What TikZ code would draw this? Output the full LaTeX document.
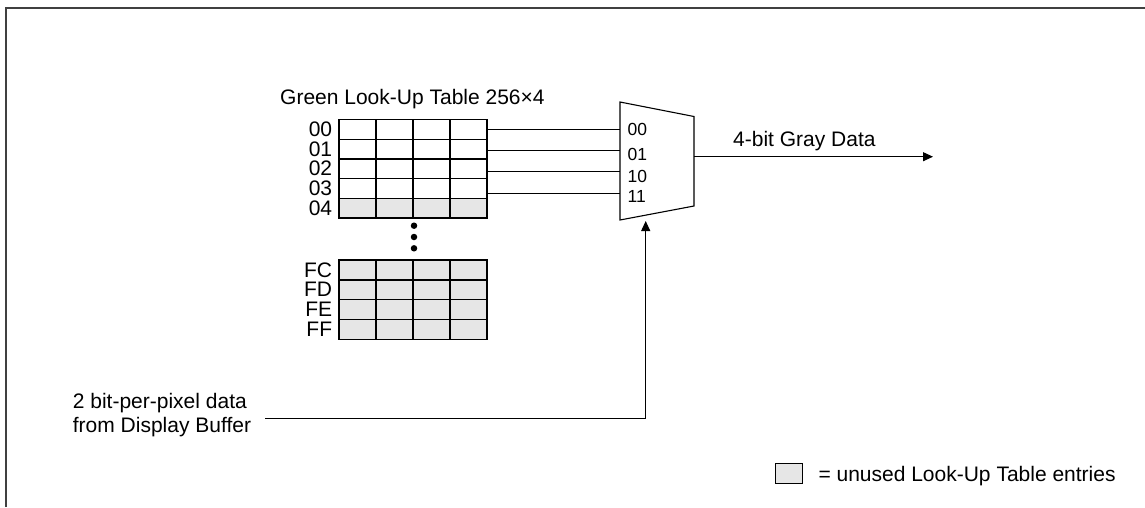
\documentclass[tikz,border=0pt]{standalone}
\usepackage{fontspec}
\setmainfont{Liberation Sans}
\usepackage{xcolor}
\usepackage{tikz}
\usetikzlibrary{positioning, arrows.meta}
\definecolor{unused}{HTML}{E6E6E6}
\definecolor{framegray}{HTML}{404040}

\tikzset{
  cell/.style={draw, line width=1.3pt, minimum width=37pt, minimum height=19.7pt, inner sep=0pt},
  rowlabel/.style={inner sep=0pt},
  muxlabel/.style={inner sep=0pt, anchor=west, font=\fontsize{17.5}{19}\selectfont},
  wire/.style={line width=1.1pt},
  sig/.style={wire, -{Triangle[length=10pt, width=9pt]}},
  dot/.style={circle, fill, inner sep=0pt, minimum size=6.5pt},
}

\begin{document}
\begin{tikzpicture}[x=1pt, y=-1pt, font=\fontsize{21}{23.4}\selectfont]
  \useasboundingbox (0,0) rectangle (1145,507);
  % frame, only top and left edges show
  \draw[framegray, line width=2.5pt] (6,507) |- (1145,8);

  % look-up table
  \node[anchor=base west, inner sep=0pt] (title) at (280,104) {Green Look-Up Table 256×4};
  \foreach \r/\lab/\col in {0/00/white, 1/01/white, 2/02/white, 3/03/white, 4/04/unused} {
    \foreach \c in {0,...,3}
      \node[cell, fill=\col] (c\r\c) at ({357.5+37*\c}, {129.35+19.7*\r}) {};
    \node[rowlabel, left=6pt of c\r0.west] {\lab};
  }
  \foreach \i in {0,1,2}
    \node[dot] (dot\i) at (414, {225.7+11.3*\i}) {};
  \foreach \r/\lab in {0/FC, 1/FD, 2/FE, 3/FF} {
    \foreach \c in {0,...,3}
      \node[cell, fill=unused] (d\r\c) at ({357.5+37*\c}, {269.9+19.8*\r}) {};
    \node[rowlabel, left=6pt of d\r0.west] {\lab};
  }

  % multiplexer
  \coordinate (muxTL) at (620,102);
  \coordinate (muxTR) at (694,116.5);
  \coordinate (muxBR) at (694,206);
  \coordinate (muxBL) at (620,220);
  \draw[wire] (muxTL) -- (muxTR) -- (muxBR) -- (muxBL) -- cycle;
  \foreach \i/\y/\lab/\ly in {0/129.5/00/129.3, 1/150.7/01/154.6, 2/171.7/10/176.3, 3/193.3/11/196.9} {
    \coordinate (in\i) at (620,\y);
    \draw[wire] (in\i -| c\i3.east) -- (in\i);
    \node[muxlabel] (sel\i) at (627.5,\ly) {\lab};
  }

  % output
  \coordinate (out) at (694,156.7);
  \coordinate (gray) at (933,156.7);
  \draw[sig] (out) -- (gray);
  \node[anchor=base west, inner sep=0pt] (graylab) at (733,146.7) {4-bit Gray Data};

  % select input
  \node[align=left, anchor=north west, inner sep=0pt] (src) at (72.7,393.3) {2 bit-per-pixel data\\from Display Buffer};
  \coordinate (selin) at (645.7,221);
  \draw[sig] ([xshift=14pt, yshift=-3.5pt]src.east) -| (selin);

  % legend
  \node[cell, fill=unused, minimum width=26.7pt, minimum height=20pt, line width=1pt] (key) at (789.3,473.3) {};
  \node[anchor=base west, inner sep=0pt] (keylab) at (818.3,481.7) {= unused Look-Up Table entries};
\end{tikzpicture}
\end{document}
